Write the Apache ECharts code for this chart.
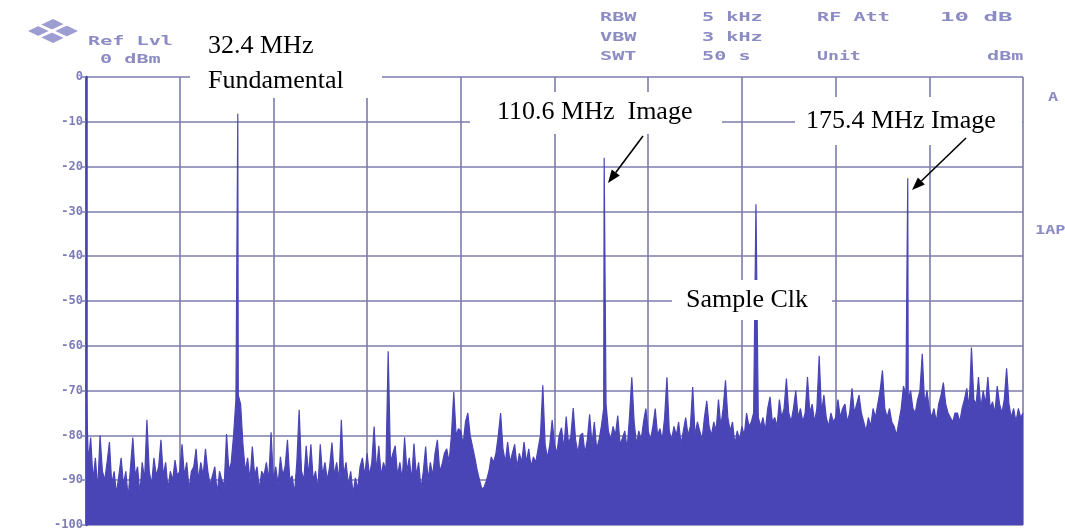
<!DOCTYPE html>
<html><head><meta charset="utf-8">
<script src="https://cdn.jsdelivr.net/npm/echarts@6/dist/echarts.min.js"></script>
<style>html,body{margin:0;padding:0;background:#fff;}#c{width:1065px;height:531px;}</style>
</head><body><div id="c"></div>
<script>
// Frequency axis: 0 .. 200 MHz, trace sampled every 0.5 MHz
const freqStartMHz = 0;
const freqStepMHz = 0.5;
const spectrumDbm = [
 -68,-86,-80.5,-90,-85,-92,-80,-88,-90,-86,-81.5,-91,-88,-93,-89,-85,-91,-88,-94,-87,
 -80.5,-89,-87,-93,-86,-90,-76.5,-88,-91,-85,-89,-87,-81,-89,-86,-92,-88,-90,-85.5,-89,
 -88,-82,-89,-86,-92,-88,-87,-83,-90,-86,-89,-83,-88,-91,-89,-87,-93,-88,-90,-91,
 -79.7,-88,-86,-80,-72,-71,-73,-82,-88,-85,-90,-82.5,-89,-87,-92,-88,-89,-86,-90,-79.3,
 -90,-87,-91,-84.8,-89,-87,-81,-90,-89,-93,-86,-74.3,-88,-90,-82.3,-89,-82,-90,-88,-92,
 -82,-89,-86,-90,-87,-81.6,-89,-86,-90,-76.5,-89,-86,-91,-88,-93,-89.5,-92,-87,-85,-89,
 -84,-89,-86,-78,-88,-82.3,-89,-86,-88,-61.2,-86,-84,-82.3,-89,-86,-90,-80.4,-88,-85,-90,
 -81.8,-89,-86,-92,-88,-82.5,-90,-86,-89,-84,-81,-88,-86.5,-84,-83,-86,-80,-70.3,-80,-78.5,
 -79,-82,-77,-75,-80,-82.5,-85,-87.8,-90,-92,-91.5,-90,-88,-84.8,-86,-84,-80,-75,-83,-86,
 -81.5,-86,-84,-82,-87,-84,-86,-81.5,-86,-83,-87,-84.8,-86,-83,-80,-68.8,-82,-85,-82,-76.6,
 -82,-84,-80,-78.3,-83,-75.8,-82,-80,-73.9,-81,-84,-80,-79.5,-84,-81,-75.3,-82,-77,-83,-81,
 -78,-74,-73,-79,-81,-78,-80,-75.6,-82,-80.6,-79,-83,-76,-67,-77,-82,-79,-81,-77,-74,
 -79,-81,-78,-74,-80,-78.5,-81,-76,-67,-79,-81,-78,-80,-77,-82,-79,-76,-80,-78,-69.2,
 -80,-77,-79,-81,-76,-72.3,-78,-80,-77,-79,-72,-78,-74,-67.7,-76,-79,-77,-82,-79,-81,
 -78,-80,-75,-78,-77,-75,-74,-76,-78,-76,-79,-74,-71.4,-77,-76,-78,-72,-76,-74,-67.3,
 -75,-77,-74,-70,-76,-74,-77,-75,-67,-75,-73,-77,-74,-62.2,-75,-71,-76,-78,-75,-77,
 -76,-72,-76,-74,-73,-77,-75,-69.5,-75,-73,-71,-75,-77,-79,-76,-78,-74,-76,-73,-70,
 -65.5,-74,-76,-74,-77,-78,-80,-77,-74,-69,-71,-72,-70,-74,-75,-72,-70,-61.8,-73,-70,
 -74,-76,-74,-77,-73,-71,-68.2,-73,-75,-76,-77,-75,-75,-77,-74,-72,-69.5,-74,-60.4,-72,
 -73,-67,-74,-70,-73,-67,-74,-72.5,-75,-69,-73,-75,-72,-65,-73,-76,-74,-77,-74,-76,
 -75
];
// Discrete tones: fundamental, images, sample clock
const toneMHz = [32.4, 110.6, 143.0, 175.4];
const toneDbm = [-8.2, -18.0, -28.4, -22.6];
const yMinDbm = -100, yMaxDbm = 0, yStepDb = 10;
const xMinMHz = 0, xMaxMHz = 200, xStepMHz = 20;

// Build trace
let pts = spectrumDbm.map((v, i) => [freqStartMHz + i * freqStepMHz, v]);
toneMHz.forEach((f, k) => {
  pts = pts.filter(p => Math.abs(p[0] - f) > 0.01);
  pts.push([f, toneDbm[k]]);
});
pts.sort((a, b) => a[0] - b[0]);

const hdr = '#8c8cc4';
const hdrFont = 'bold 13px "DejaVu Sans Mono"';
function hText(t, x, y, sx) {
  return { type: 'text', x: x, y: y, scaleX: sx || 1.55, silent: true, z: 60,
    style: { text: t, fill: hdr, font: hdrFont, align: 'left', verticalAlign: 'middle' } };
}
function arrow(x1, y1, x2, y2) {
  const a = Math.atan2(y2 - y1, x2 - x1), L = 13, W = 5;
  const bx = x2 - L * Math.cos(a), by = y2 - L * Math.sin(a);
  const px = -Math.sin(a) * W, py = Math.cos(a) * W;
  return [
    { type: 'line', silent: true, z: 62, shape: { x1: x1, y1: y1, x2: bx, y2: by }, style: { stroke: '#000', lineWidth: 1.6 } },
    { type: 'polygon', silent: true, z: 62, shape: { points: [[x2, y2], [bx + px, by + py], [bx - px, by - py]] }, style: { fill: '#000' } }
  ];
}
const serif = '"Liberation Serif", "Times New Roman", serif';
function note(lines, x, y, lh, box) {
  const els = [{ type: 'rect', silent: true, z: 60, shape: box, style: { fill: '#fff' } }];
  lines.forEach((t, i) => els.push({ type: 'text', silent: true, z: 61, x: x, y: y + i * lh,
    style: { text: t, fill: '#000', font: '26px ' + serif, align: 'left', verticalAlign: 'middle' } }));
  return els;
}

const graphics = [
  // R&S style logo
  { type: 'polygon', silent: true, z: 60, shape: { points: [[28, 31], [53, 19], [78, 31], [53, 43]] }, style: { fill: '#9d9dd2' } },
  { type: 'line', silent: true, z: 61, shape: { x1: 39, y1: 25, x2: 67, y2: 38 }, style: { stroke: '#fff', lineWidth: 3 } },
  { type: 'line', silent: true, z: 61, shape: { x1: 39, y1: 37, x2: 67, y2: 24 }, style: { stroke: '#fff', lineWidth: 3 } },
  hText('Ref Lvl', 88, 42), hText('0 dBm', 100, 60),
  hText('RBW', 600, 18), hText('5 kHz', 702, 18), hText('RF Att', 817, 18), hText('10 dB', 940, 18, 1.85),
  hText('VBW', 600, 38), hText('3 kHz', 702, 38),
  hText('SWT', 600, 57), hText('50 s', 702, 57), hText('Unit', 817, 57, 1.4), hText('dBm', 987, 57),
  hText('A', 1048, 98, 1.3), hText('1AP', 1035, 231, 1.3)
].concat(
  note(['32.4 MHz', 'Fundamental'], 208, 46, 35, { x: 190, y: 18, width: 192, height: 80 }),
  note(['110.6 MHz  Image'], 497, 112, 30, { x: 470, y: 92, width: 252, height: 42 }),
  note(['175.4 MHz Image'], 806, 121, 30, { x: 795, y: 97, width: 227, height: 48 }),
  note(['Sample Clk'], 686, 300, 30, { x: 672, y: 280, width: 160, height: 40 }),
  arrow(643, 136, 608, 183),
  arrow(966, 138, 912, 190)
);

const chart = echarts.init(document.getElementById('c'), null, { renderer: 'canvas' });
chart.setOption({
  animation: false,
  backgroundColor: '#ffffff',
  grid: { left: 86, top: 77, width: 937, height: 455, containLabel: false },
  xAxis: {
    type: 'value', min: xMinMHz, max: xMaxMHz, interval: xStepMHz,
    axisLine: { show: false }, axisTick: { show: false }, axisLabel: { show: false },
    splitLine: { show: true, showMinLine: true, showMaxLine: true, lineStyle: { color: '#7c7cac', width: 1.6 } }
  },
  yAxis: {
    type: 'value', min: yMinDbm, max: yMaxDbm, interval: yStepDb,
    axisLine: { show: true, lineStyle: { color: '#4444a6', width: 2.5 } },
    axisTick: { show: true, length: 4, lineStyle: { color: '#7c7cb8', width: 1.5 } },
    axisLabel: { color: '#7c7cb8', fontFamily: 'DejaVu Sans Mono', fontWeight: 'bold', fontSize: 12, margin: 3 },
    splitLine: { show: true, showMinLine: true, showMaxLine: true, lineStyle: { color: '#7c7cac', width: 1.6 } }
  },
  series: [{
    type: 'line', data: pts, showSymbol: false, symbol: 'none', sampling: 'none',
    lineStyle: { color: '#4a45b6', width: 1.2 },
    areaStyle: { color: '#4a45b6', opacity: 1, origin: 'start' },
    z: 3
  }],
  graphic: graphics
});
</script>
</body></html>
